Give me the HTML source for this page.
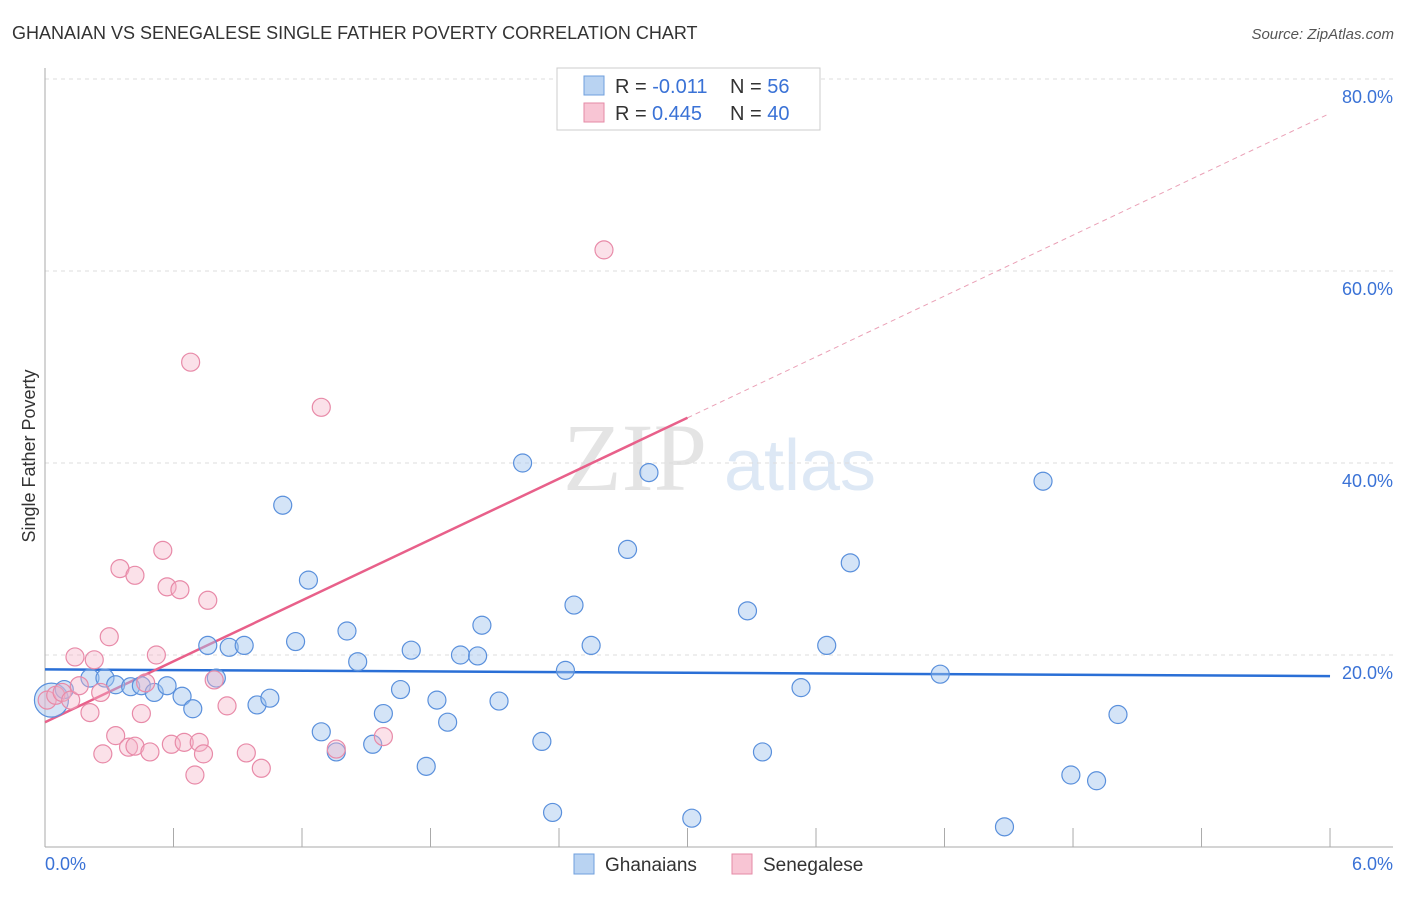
<!DOCTYPE html>
<html><head><meta charset="utf-8"><style>
body{margin:0;background:#fff;font-family:"Liberation Sans",sans-serif;}
</style></head><body>
<svg width="1406" height="892" xmlns="http://www.w3.org/2000/svg">
<text x="12" y="39" font-size="18" fill="#333">GHANAIAN VS SENEGALESE SINGLE FATHER POVERTY CORRELATION CHART</text>
<text x="1394" y="39" font-size="15" fill="#555" font-style="italic" text-anchor="end">Source: ZipAtlas.com</text>
<text x="35" y="456" font-size="18" fill="#333" transform="rotate(-90 35 456)" text-anchor="middle">Single Father Poverty</text>
<g><text x="635" y="490" font-size="96" fill="#e4e4e4" font-family="Liberation Serif" text-anchor="middle">ZIP</text><text x="800" y="490" font-size="72" fill="#dde8f5" text-anchor="middle">atlas</text></g>
<g id="grid"></g><g id="axes"></g><g id="trend"></g><g id="pts"></g>
<g>
<rect x="557" y="68" width="263" height="62" fill="#fff" stroke="#ccc"/>
<rect x="584" y="76" width="20" height="19" fill="#b9d3f2" stroke="#6f9fdd"/>
<rect x="584" y="103" width="20" height="19" fill="#f8c5d4" stroke="#e58aa6"/>
<text x="615" y="93" font-size="20" fill="#333">R = <tspan fill="#3a72d6">-0.011</tspan><tspan x="730">N = </tspan><tspan fill="#3a72d6">56</tspan></text>
<text x="615" y="120" font-size="20" fill="#333">R = <tspan x="652" fill="#3a72d6">0.445</tspan><tspan x="730">N = </tspan><tspan fill="#3a72d6">40</tspan></text>
</g>
<g>
<rect x="574" y="854" width="20" height="20" fill="#b9d3f2" stroke="#6f9fdd"/>
<text x="605" y="871" font-size="19" fill="#333">Ghanaians</text>
<rect x="732" y="854" width="20" height="20" fill="#f8c5d4" stroke="#e58aa6"/>
<text x="763" y="871" font-size="19" fill="#333">Senegalese</text>
</g>
<text x="45" y="870" font-size="18" fill="#3a72d6">0.0%</text>
<text x="1393" y="870" font-size="18" fill="#3a72d6" text-anchor="end">6.0%</text>
</svg>
<script>
const yTicks=[20,40,60,80];
const blueX=[0.03,0.09,0.21,0.28,0.33,0.40,0.45,0.51,0.57,0.64,0.69,0.76,0.80,0.86,0.93,0.99,1.05,1.11,1.17,1.23,1.29,1.36,1.41,1.46,1.53,1.58,1.66,1.71,1.78,1.83,1.88,1.94,2.02,2.04,2.12,2.23,2.32,2.37,2.43,2.47,2.55,2.72,2.82,3.02,3.28,3.35,3.53,3.65,3.76,4.18,4.48,4.66,4.79,4.91,5.01];
const blueY=[15.3,16.4,17.6,17.6,16.9,16.7,16.8,16.1,16.8,15.7,14.4,21.0,17.6,20.8,21.0,14.8,15.5,35.6,21.4,27.8,12.0,9.9,22.5,19.3,10.7,13.9,16.4,20.5,8.4,15.3,13.0,20.0,19.9,23.1,15.2,40.0,11.0,3.6,18.4,25.2,21.0,31.0,39.0,3.0,24.6,9.9,16.6,21.0,29.6,18.0,2.1,38.1,7.5,6.9,13.8];
const pinkX=[0.01,0.05,0.08,0.12,0.14,0.16,0.21,0.23,0.26,0.27,0.30,0.33,0.35,0.39,0.42,0.42,0.45,0.47,0.49,0.52,0.55,0.57,0.59,0.63,0.65,0.68,0.70,0.72,0.74,0.76,0.79,0.85,0.94,1.01,1.29,1.36,1.58,2.61];
const pinkY=[15.3,15.8,16.1,15.3,19.8,16.8,14.0,19.5,16.1,9.7,21.9,11.6,29.0,10.4,28.3,10.5,13.9,17.1,9.9,20.0,30.9,27.1,10.7,26.8,10.9,50.5,7.5,10.9,9.7,25.7,17.4,14.7,9.8,8.2,45.8,10.2,11.5,62.2];
const blueTrend=[18.5,17.8];
const pinkTrend=[13.0,10.57];
const NS='http://www.w3.org/2000/svg';
const xs=v=>45+v*214.17, ys=v=>847-v*9.6;
function mk(p,t,a){const e=document.createElementNS(NS,t);for(const k in a)e.setAttribute(k,a[k]);p.appendChild(e);return e;}
const grid=document.getElementById('grid'),axes=document.getElementById('axes'),tr=document.getElementById('trend'),pts=document.getElementById('pts');
yTicks.forEach(t=>{const l=mk(grid,'line',{x1:45,x2:1393,y1:ys(t),y2:ys(t),stroke:'#ddd','stroke-dasharray':'4 4'});


const tx=mk(grid,'text',{x:1393,y:ys(t)+24,'font-size':18,fill:'#3a72d6','text-anchor':'end'});tx.textContent=t.toFixed(1)+'%';

});
mk(axes,'line',{x1:45,x2:45,y1:68,y2:847,stroke:'#aaa'});
mk(axes,'line',{x1:45,x2:1393,y1:847,y2:847,stroke:'#aaa'});
for(let i=1;i<=10;i++){mk(axes,'line',{x1:xs(i*0.6),x2:xs(i*0.6),y1:828,y2:847,stroke:'#aaa'});}
const bl=mk(tr,'line',{x1:xs(0),x2:xs(6),y1:ys(blueTrend[0]),y2:ys(blueTrend[1]),stroke:'#2a6fd6','stroke-width':2.5});


const pk=mk(tr,'line',{x1:xs(0),x2:xs(3),y1:ys(pinkTrend[0]),y2:ys(pinkTrend[0]+3*pinkTrend[1]),stroke:'#e8608a','stroke-width':2.5});


const pd=mk(tr,'line',{x1:xs(3),x2:xs(6),y1:ys(pinkTrend[0]+3*pinkTrend[1]),y2:ys(pinkTrend[0]+6*pinkTrend[1]),stroke:'#eaa0b6','stroke-width':1,'stroke-dasharray':'5 4'});


blueX.forEach((x,i)=>{const c=mk(pts,'circle',{cx:xs(x),cy:ys(blueY[i]),r:i===0?17:9,fill:'rgba(160,195,238,0.45)',stroke:'#5a90dc','stroke-width':1.2});

});
pinkX.forEach((x,i)=>{const c=mk(pts,'circle',{cx:xs(x),cy:ys(pinkY[i]),r:9,fill:'rgba(245,180,200,0.4)',stroke:'#e88aa8','stroke-width':1.2});

});
</script>
</body></html>
